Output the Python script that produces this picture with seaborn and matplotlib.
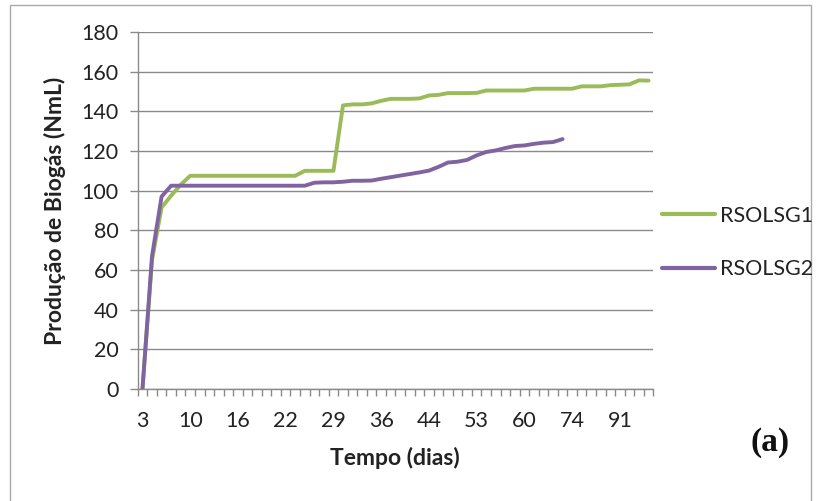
import numpy as np
import pandas as pd
import matplotlib
matplotlib.use("Agg")
import matplotlib.pyplot as plt
import seaborn as sns
from matplotlib.patches import Rectangle

# Category axis (days); only every 5th label is shown, as in the reference
dias = [3, 4, 6, 7, 8, 10, 11, 13, 14, 15, 16, 17, 18, 20, 21, 22, 24, 25, 27, 28,
        29, 30, 31, 32, 35, 36, 37, 39, 41, 42, 44, 46, 48, 49, 51, 53, 55, 56, 57, 58,
        60, 63, 65, 67, 70, 74, 77, 80, 84, 87, 91, 92, 93, 94]

rsolsg1 = [0, 65, 91.5, 97.5, 103, 107.5, 107.5, 107.5, 107.5, 107.5, 107.5, 107.5, 107.5,
           107.5, 107.5, 107.5, 107.5, 110, 110, 110, 110, 143, 143.5, 143.5, 144,
           145.3, 146.3, 146.3, 146.3, 146.5, 148, 148.3, 149.2, 149.2, 149.2, 149.3,
           150.5, 150.5, 150.5, 150.5, 150.5, 151.4, 151.4, 151.4, 151.4, 151.4, 152.6,
           152.6, 152.6, 153.2, 153.4, 153.6, 155.6, 155.5]

rsolsg2 = [0, 67, 97, 102.5, 102.5, 102.5, 102.5, 102.5, 102.5, 102.5, 102.5, 102.5,
           102.5, 102.5, 102.5, 102.5, 102.5, 102.5, 104, 104.2, 104.2, 104.5, 105, 105,
           105.1, 106, 106.8, 107.6, 108.4, 109.2, 110.1, 112, 114.2, 114.6, 115.5, 117.8,
           119.5, 120.3, 121.5, 122.5, 122.8, 123.6, 124.2, 124.5, 126]

series_names = ["RSOLSG1", "RSOLSG2"]
colors = ["#9BBB59", "#8064A2"]
y_ticks = list(range(0, 181, 20))
label_step = 5

sns.set_theme(style="white")
plt.rcParams["font.family"] = ["Lato", "DejaVu Sans"]

df = pd.concat([
    pd.DataFrame({"pos": np.arange(len(rsolsg1)), "valor": rsolsg1, "serie": series_names[0]}),
    pd.DataFrame({"pos": np.arange(len(rsolsg2)), "valor": rsolsg2, "serie": series_names[1]}),
], ignore_index=True)

W, H = 819, 501
fig = plt.figure(figsize=(W / 100, H / 100), dpi=100)
fig.patch.set_facecolor("white")
L, R, T, B = 137.7, 653.3, 32, 389
ax = fig.add_axes([L / W, 1 - B / H, (R - L) / W, (B - T) / H])

sns.lineplot(data=df, x="pos", y="valor", hue="serie", hue_order=series_names,
             palette=colors, linewidth=2.8, ax=ax, legend=False,
             estimator=None, sort=False)

grid_c = "#8a8a8a"
txt_c = "#222222"
fs = 15.5
n = len(dias)
ax.set_xlim(-0.5, n - 0.5)
ax.set_ylim(0, 180)
ax.set_yticks(y_ticks)
ax.set_yticklabels([str(v) for v in y_ticks], fontsize=fs)
ax.yaxis.grid(True, color=grid_c, linewidth=1)
ax.xaxis.grid(False)
ax.set_axisbelow(True)

idx = list(range(0, n, label_step))
ax.set_xticks(idx)
ax.set_xticklabels([str(dias[i]) for i in idx], fontsize=fs)
ax.set_xticks(np.arange(-0.5, n, 1), minor=True)
ax.tick_params(axis="x", which="major", length=0, pad=16, colors=txt_c)
ax.tick_params(axis="x", which="minor", length=5, width=1, color=grid_c, direction="out",
               bottom=True)
ax.tick_params(axis="y", which="major", length=6, width=1, color=grid_c, direction="out",
               pad=8, left=True, labelcolor=txt_c)
for s in ["top", "right"]:
    ax.spines[s].set_visible(False)
for s in ["left", "bottom"]:
    ax.spines[s].set_color(grid_c)
    ax.spines[s].set_linewidth(1)
ax.set_xlabel("")
ax.set_ylabel("")

fig.text(55 / W, 1 - 211 / H, "Produção de Biogás (NmL)", rotation=90, ha="center",
         va="center", fontsize=16.5, fontweight="bold", color=txt_c)
fig.text(395 / W, 1 - 458 / H, "Tempo (dias)", ha="center", va="center", fontsize=16.5,
         fontweight="bold", color=txt_c)

handles = [plt.Line2D([], [], color=c, linewidth=3) for c in colors]
fig.legend(handles, series_names, loc="center left",
           bbox_to_anchor=(662 / W, 1 - 242.5 / H), frameon=False, fontsize=fs,
           handlelength=2.45, handletextpad=0.25, labelspacing=1.55, borderpad=0,
           borderaxespad=0, labelcolor=txt_c)

fig.text(770 / W, 1 - 443 / H, "(a)", ha="center", va="center", fontsize=24,
         fontweight="bold", family=["Liberation Serif", "DejaVu Serif"], color="#111111")

fig.patches.append(Rectangle((10 / W, -0.1), (811 - 10) / W, 1.1 - 5 / H,
                             transform=fig.transFigure, fill=False,
                             edgecolor="#a9a9a9", linewidth=1))

fig.savefig("out.png", dpi=100)
